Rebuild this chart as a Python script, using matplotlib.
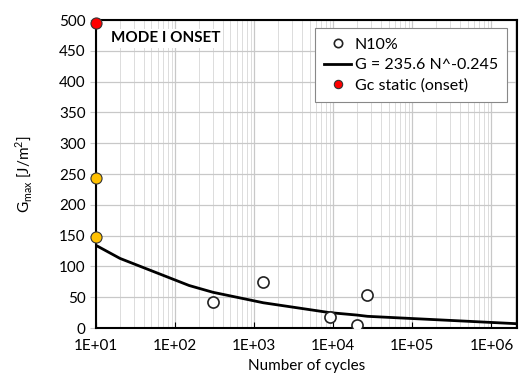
import numpy as np
import matplotlib.pyplot as plt
from matplotlib.ticker import LogLocator, FixedLocator, NullFormatter

plt.rcParams['font.family'] = ['Lato', 'DejaVu Sans']

# data
n10_cycles = [300, 1300, 9000, 20000, 27000]
n10_g = [42, 75, 18, 5, 54]

fit_cycles = [10, 20, 150, 300, 1300, 9000, 20000, 27000, 2.1e6]
fit_g = [134, 113, 69, 58, 41, 25, 21, 19, 7]

static_cycles = [10]
static_g = [495]
other_cycles = [10, 10]
other_g = [243, 147]

xticks = [1e1, 1e2, 1e3, 1e4, 1e5, 1e6]
xtick_labels = ['1E+01', '1E+02', '1E+03', '1E+04', '1E+05', '1E+06']

fig = plt.figure(figsize=(5.2, 3.85), dpi=100)
ax = fig.add_axes([0.185, 0.148, 0.809, 0.8])

ax.set_xscale('log')
ax.set_xlim(10, 2.1e6)
ax.set_ylim(0, 500)

ax.xaxis.set_major_locator(FixedLocator(xticks))
ax.set_xticklabels(xtick_labels)
ax.xaxis.set_minor_locator(LogLocator(base=10, subs=np.arange(2, 10)))
ax.xaxis.set_minor_formatter(NullFormatter())
ax.set_yticks(np.arange(0, 501, 50))

ax.grid(True, which='major', axis='both', color='#c8c8c8', lw=0.9)
ax.grid(True, which='minor', axis='x', color='#dcdcdc', lw=0.7)
ax.set_axisbelow(True)

ax.plot(n10_cycles, n10_g, 'o', ms=8, mfc='white', mec='#222222', mew=1.2,
        label='N10%', zorder=4)
ax.plot(fit_cycles, fit_g, '-', color='black', lw=2, label='G = 235.6 N^-0.245', zorder=3)
ax.plot(other_cycles, other_g, 'o', ms=8, mfc='#FFC000', mec='#333333', mew=0.8,
        clip_on=False, zorder=5)
ax.plot(static_cycles, static_g, 'o', ms=8, mfc='#FF0000', mec='#333333', mew=0.8,
        clip_on=False, label='Gc static (onset)', zorder=5)

for s in ax.spines.values():
    s.set_color('black')
    s.set_linewidth(1.5)

ax.tick_params(axis='x', which='major', direction='in', length=4, labelsize=11, pad=8)
ax.tick_params(axis='x', which='minor', length=0)
ax.tick_params(axis='y', direction='out', length=4, labelsize=11, color='#c8c8c8')

ax.set_xlabel('Number of cycles', fontsize=11)
ax.set_ylabel('G$_{\\mathregular{max}}$ [J/m$^{\\mathregular{2}}$]', fontsize=11, labelpad=18)

ax.text(0.035, 0.94, 'MODE I ONSET', transform=ax.transAxes, fontsize=11,
        fontweight='bold', va='center', ha='left',
        bbox=dict(facecolor='white', edgecolor='none', pad=2))

leg = ax.legend(loc='upper right', bbox_to_anchor=(0.985, 0.985), fontsize=11.5,
                fancybox=False, framealpha=1, edgecolor='#888888',
                handlelength=1.7, handletextpad=0.2, borderpad=0.6,
                labelspacing=0.4, markerscale=0.75, borderaxespad=0.2)
leg.get_frame().set_linewidth(0.8)

fig.savefig('out.png', dpi=100)
